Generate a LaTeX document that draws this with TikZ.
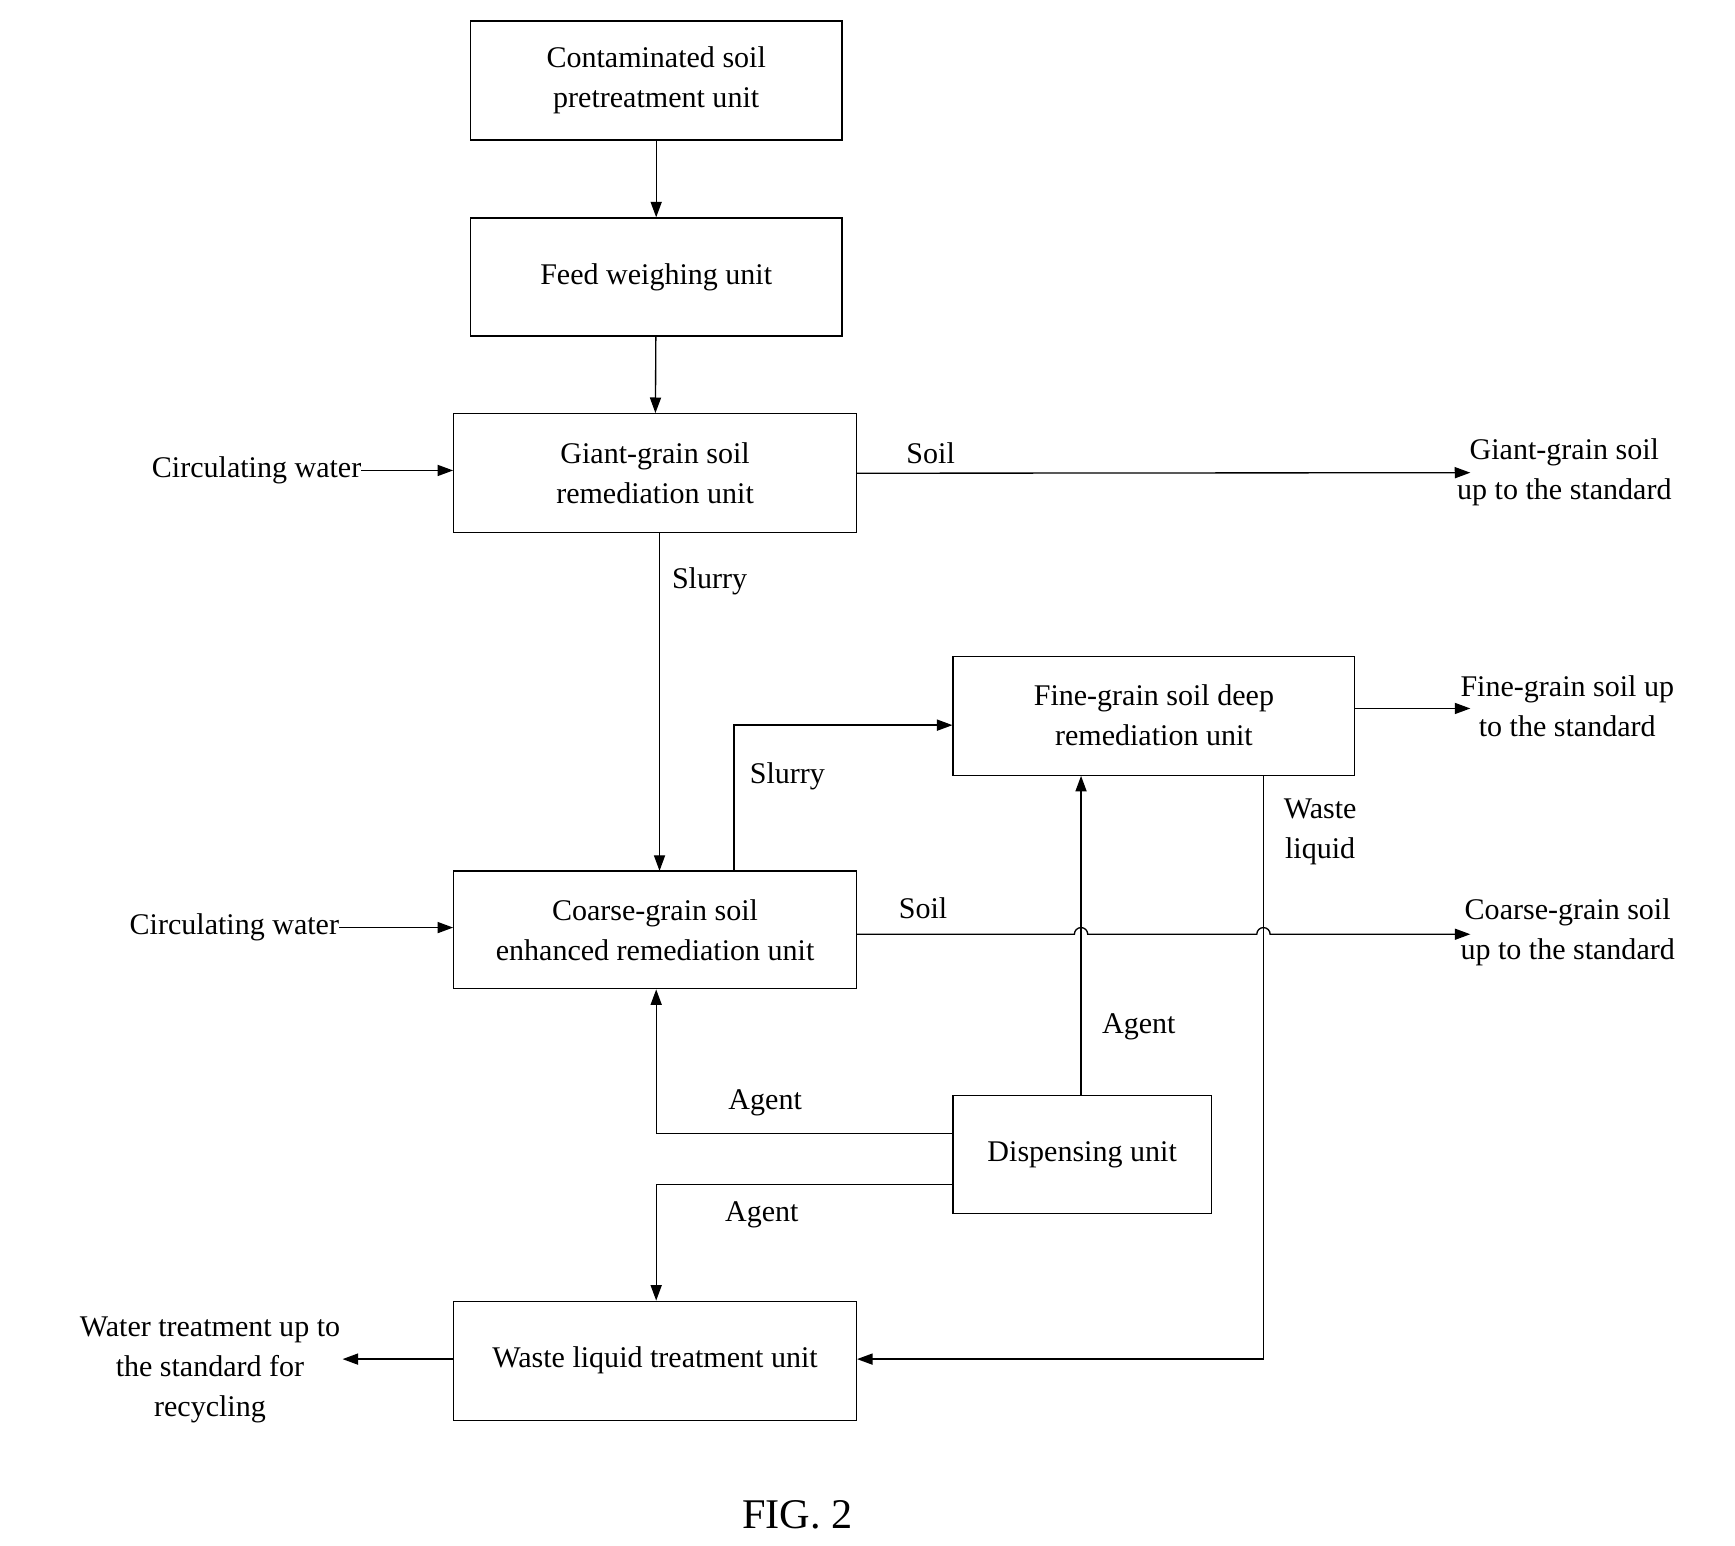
\documentclass[tikz,border=0pt]{standalone}
\usepackage{fontspec}
\setmainfont{Liberation Serif}
\usetikzlibrary{arrows.meta}
\begin{document}
\begin{tikzpicture}[x=1pt,y=-1pt,
  box/.style={draw,line width=1.2pt,inner sep=0pt,align=center,font=\fontsize{27}{36}\selectfont},
  lbl/.style={align=center,font=\fontsize{27}{36}\selectfont,inner sep=0pt},
  ln/.style={line width=1.2pt},
  ar/.style={ln,-{Triangle[length=14pt,width=10pt]}}]
\useasboundingbox (0,0) rectangle (1560,1390);
\node[box,minimum width=334pt,minimum height=107pt] (pre) at (590,72.5) {Contaminated soil\\pretreatment unit};
\node[box,minimum width=334pt,minimum height=106pt] (feed) at (590,249) {Feed weighing unit};
\node[box,minimum width=362pt,minimum height=107pt] (giant) at (589,425.5) {Giant-grain soil\\remediation unit};
\node[box,minimum width=361pt,minimum height=107pt] (fine) at (1037.5,643.5) {Fine-grain soil deep\\remediation unit};
\node[box,minimum width=362pt,minimum height=106pt] (coarse) at (589,836) {Coarse-grain soil\\enhanced remediation unit};
\node[box,minimum width=232pt,minimum height=106pt] (disp) at (973,1038) {Dispensing unit};
\node[box,minimum width=362pt,minimum height=107pt] (waste) at (589,1223.5) {Waste liquid treatment unit};

\node[lbl,anchor=east] (cw1) at (325,423) {Circulating water};
\node[lbl,anchor=east] (cw2) at (305,834) {Circulating water};
\node[lbl,anchor=west] (o1) at (1310,425) {Giant-grain soil\\up to the standard};
\node[lbl,anchor=west] (o2) at (1313,635) {Fine-grain soil up\\to the standard};
\node[lbl,anchor=west] (o3) at (1313,838) {Coarse-grain soil\\up to the standard};
\node[lbl,anchor=east] (o4) at (306,1232) {Water treatment up to\\the standard for\\recycling};
\coordinate (e1) at (1322,425);
\coordinate (e2) at (1322,637);
\coordinate (e3) at (1322,840);
\coordinate (e4) at (308,1222);

\draw[ar] (pre) -- (feed);
\draw[ar] (feed) -- (giant);
\draw[ar] (cw1.east) -- (giant.west|-cw1.east);
\draw[ar] (cw2.east) -- (coarse.west|-cw2.east);
\draw[ar] (giant.east) -- (e1) node[lbl,pos=0.12,above=8pt] {Soil};
\draw[ar] (593,479) -- (593,783);
\node[lbl] at (638,523) {Slurry};
\draw[ar] (660,783) |- (fine.west|-0,652);
\node[lbl] at (708,698) {Slurry};
\draw[ar] (fine.east|-e2) -- (e2);
\draw[ar] (1136,697) -- (1136,1222) -- (waste.east|-0,1222);
\node[lbl] at (1187,748) {Waste\\liquid};
\draw[ar] (coarse.east|-e3) -- (966,840) arc(180:360:6) -- (1130,840) arc(180:360:6) -- (e3);
\node[lbl] at (830,817) {Soil};
\draw[ar] (disp.north-|972,0) -- (fine.south-|972,0);
\node[lbl] at (1024,923) {Agent};
\draw[ar] (disp.west|-0,1019) -| (coarse.south-|590,0);
\node[lbl] at (688,992) {Agent};
\draw[ar] (disp.west|-0,1065) -| (waste.north-|590,0);
\node[lbl] at (685,1092) {Agent};
\draw[ar] (waste.west|-e4) -- (e4);
\node[lbl,font=\fontsize{38}{44}\selectfont] (fig) at (717,1362) {FIG. 2};
\end{tikzpicture}
\end{document}
